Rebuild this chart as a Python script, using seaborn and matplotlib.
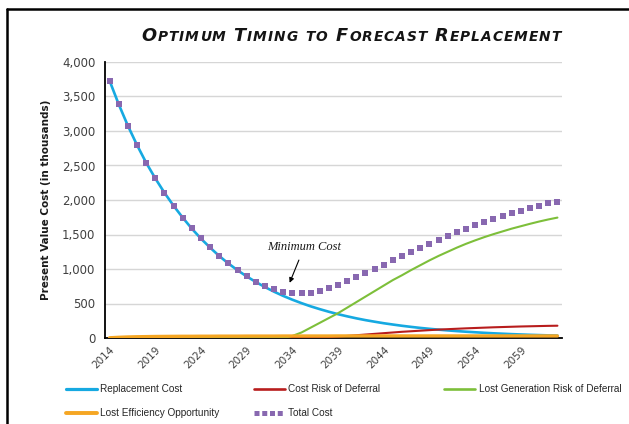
import pandas as pd
import matplotlib
matplotlib.use('Agg')
import matplotlib.pyplot as plt
import seaborn as sns
from matplotlib.lines import Line2D
from matplotlib.offsetbox import TextArea, HPacker, AnchoredOffsetbox

# Veriler (bin cinsinden)
years = list(range(2014, 2064))

replacement_cost = [3729, 3387, 3077, 2797, 2541, 2314, 2106, 1917, 1745, 1585,
                    1440, 1310, 1188, 1080, 982, 893, 812, 738, 671, 610,
                    555, 505, 459, 418, 380, 345, 314, 285, 259, 236,
                    214, 195, 177, 161, 146, 133, 121, 110, 100, 91,
                    83, 75, 68, 62, 56, 51, 46, 42, 38, 35]

cost_risk_deferral = [0] * 23 + [5, 12, 20, 30, 40, 50, 60, 70, 80, 90,
                                 98, 106, 114, 122, 128, 134, 140, 145, 150, 155,
                                 159, 163, 167, 170, 173, 176, 178]

lost_generation = [0] * 19 + [0, 30, 80, 150, 220, 290, 360, 440, 520, 600,
                              680, 760, 840, 910, 985, 1055, 1125, 1190, 1250, 1310,
                              1365, 1415, 1462, 1505, 1545, 1585, 1620, 1655, 1688, 1718,
                              1745]

lost_efficiency = [3, 10, 15, 18, 20, 22, 23, 24, 25, 25,
                   26, 26, 27, 27, 27, 28, 28, 28, 28, 29,
                   29, 29, 29, 29, 29, 30, 30, 30, 30, 30,
                   30, 30, 30, 30, 30, 30, 30, 30, 30, 30,
                   30, 30, 30, 30, 30, 30, 30, 30, 30, 30]

total_cost = [3729, 3387, 3077, 2797, 2541, 2314, 2106, 1917, 1745, 1590,
              1445, 1323, 1188, 1082, 985, 898, 816, 752, 703, 672,
              652, 645, 655, 685, 730, 775, 826, 889, 947, 1000,
              1058, 1125, 1188, 1246, 1300, 1358, 1420, 1478, 1532, 1584,
              1638, 1686, 1725, 1768, 1807, 1845, 1880, 1913, 1950, 1975]

series_names = ['Replacement Cost', 'Cost Risk of Deferral', 'Lost Generation Risk of Deferral',
                'Lost Efficiency Opportunity', 'Total Cost']
colors = ['#16a9e1', '#b81d1d', '#7dbf3a', '#f5a623', '#8868b0']
widths = [1.9, 1.5, 1.5, 2.4]

df = pd.DataFrame({
    'Year': years,
    series_names[0]: replacement_cost,
    series_names[1]: cost_risk_deferral,
    series_names[2]: lost_generation,
    series_names[3]: lost_efficiency,
    series_names[4]: total_cost,
})

sns.set_theme(style='white')
plt.rcParams['font.family'] = ['DejaVu Sans']

fig = plt.figure(figsize=(6.29, 4.24), dpi=100)
ax = fig.add_axes([105 / 629, 1 - 338 / 424, 457 / 629, 276 / 424])

for name, c, lw in zip(series_names[:4], colors[:4], widths):
    sns.lineplot(data=df, x='Year', y=name, color=c, lw=lw, ax=ax, zorder=3)

sns.scatterplot(data=df, x='Year', y=series_names[4], color=colors[4], marker='s',
                s=14, linewidth=0, ax=ax, zorder=4)

ax.set_xlim(2013.5, 2063.5)
ax.set_ylim(0, 4000)
ax.set_yticks(range(0, 4001, 500))
ax.set_yticklabels([f'{v:,}' for v in range(0, 4001, 500)], fontsize=8.5, color='#404040')
ax.set_xticks(years)
ax.set_xticklabels([str(y) if (y - 2014) % 5 == 0 else '' for y in years],
                   rotation=45, ha='right', va='top', rotation_mode='anchor',
                   fontsize=7.5, color='#404040')
ax.tick_params(axis='both', which='major', length=4, width=1, color='black',
               direction='out', pad=3)
ax.tick_params(axis='x', pad=1)
ax.yaxis.grid(True, color='#d6d6d6', lw=1)
ax.xaxis.grid(False)
ax.set_axisbelow(True)
for s in ['top', 'right']:
    ax.spines[s].set_visible(False)
for s in ['left', 'bottom']:
    ax.spines[s].set_color('black')
    ax.spines[s].set_linewidth(1.3)

ax.set_xlabel('')
ax.set_ylabel('Present Value Cost (in thousands)', fontsize=7.5, fontweight='bold',
              color='#1a1a1a', labelpad=8)

# Minimum Cost notu
ax.annotate('Minimum Cost', xy=(2033.7, 800), xytext=(2035.3, 1320),
            ha='center', va='center', fontsize=9, fontstyle='italic',
            family='Liberation Serif', color='#1a1a1a',
            arrowprops=dict(arrowstyle='-|>', color='black', lw=0.8,
                            mutation_scale=7, shrinkA=3, shrinkB=0))

# Baslik (kucuk buyuk harf)
def word_box(word, big=12.8, small=9.9):
    parts = []
    for i, ch in enumerate(word):
        size = big if (i == 0 and ch.isupper()) else small
        parts.append(TextArea(ch.upper(), textprops=dict(fontsize=size, fontweight='bold',
                                                         fontstyle='italic', color='#141414')))
    return HPacker(children=parts, align='baseline', pad=0, sep=0.7)

title_words = ['Optimum', 'Timing', 'to', 'Forecast', 'Replacement']
title_box = HPacker(children=[word_box(w) for w in title_words], align='baseline', pad=0, sep=6)
anchored = AnchoredOffsetbox(loc='center', child=title_box, pad=0, borderpad=0, frameon=False,
                             bbox_to_anchor=(351 / 629, 1 - 36 / 424),
                             bbox_transform=fig.transFigure)
ax.add_artist(anchored)

# Lejant: uc sutun
handles = {}
for name, c, lw in zip(series_names[:4], colors[:4], widths):
    handles[name] = Line2D([], [], color=c, lw=lw + 0.4)
handles['Total Cost'] = Line2D([], [], color=colors[4], lw=3.6, linestyle=(0, (1, 0.55)),
                               dash_capstyle='butt')

legend_cols = [
    (66, ['Replacement Cost', 'Lost Efficiency Opportunity']),
    (254, ['Cost Risk of Deferral', 'Total Cost']),
    (444, ['Lost Generation Risk of Deferral']),
]
for x0, names in legend_cols:
    leg = fig.legend([handles[n] for n in names], names, loc='upper left',
                     bbox_to_anchor=(x0 / 629, 1 - 384 / 424), frameon=False,
                     prop=dict(family='Liberation Sans', size=7.2), handlelength=3.1,
                     handletextpad=0.35, labelspacing=1.45, borderpad=0, borderaxespad=0)
    for t in leg.get_texts():
        t.set_color('#262626')

# Dis cerceve
fig.add_artist(Line2D([7 / 629, 1], [1 - 9 / 424, 1 - 9 / 424], transform=fig.transFigure,
                      color='black', lw=1.8))
fig.add_artist(Line2D([7 / 629, 7 / 629], [0, 1 - 9 / 424], transform=fig.transFigure,
                      color='black', lw=1.8))

fig.savefig('out.png', dpi=100)
plt.close(fig)
